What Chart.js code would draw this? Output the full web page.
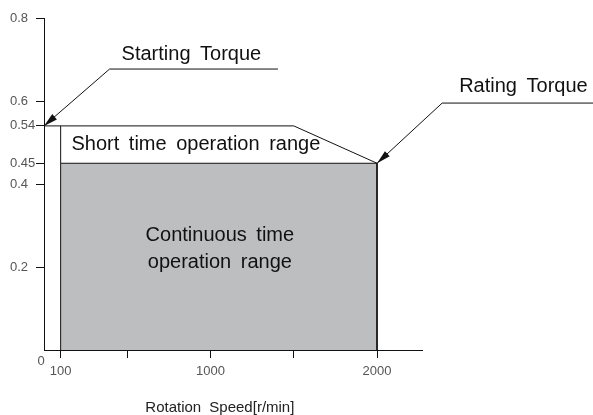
<!DOCTYPE html>
<html>
<head>
<meta charset="utf-8">
<script src="https://cdn.jsdelivr.net/npm/chart.js@4"></script>
<style>
html, body { margin: 0; padding: 0; background: #fff; }
#wrap { width: 593px; height: 415px; }
</style>
</head>
<body>
<div id="wrap"><canvas id="graficoTorque"></canvas></div>
<script>
// ticks
const speedTicks = [100, 500, 1000, 1500, 2000];
const speedLabels = [100, 1000, 2000];
const torqueTicks = [0.2, 0.4, 0.45, 0.54, 0.6, 0.8];

// continuous range (gray box)
const continuousSpeed = [100, 100, 2000, 2000];
const continuousTorque = [0, 0.45, 0.45, 0];

// short time range outline
const shortSpeed = [0, 1500, 2000];
const shortTorque = [0.54, 0.54, 0.45];
const shortEdgeSpeed = [100, 100];
const shortEdgeTorque = [0.45, 0.54];

// leader lines (end at the arrow tip)
const startLeaderSpeed = [1405, 394, 0];
const startLeaderTorque = [0.677, 0.677, 0.54];
const ratingLeaderSpeed = [3300, 2391, 2000];
const ratingLeaderTorque = [0.595, 0.595, 0.45];

// notes
const noteTexts = ['Starting Torque', 'Rating Torque', 'Short time operation range', 'Continuous time', 'operation range'];
const noteSpeed = [466, 2493, 165, 1056, 1056];
const noteTorque = [0.699, 0.622, 0.495, 0.263, 0.198];
const noteAlign = ['left', 'left', 'left', 'center', 'center'];

const pts = (xs, ys) => xs.map((v, i) => ({x: v, y: ys[i]}));

const lineDs = (xs, ys, extra) => Object.assign({
  data: pts(xs, ys),
  showLine: true,
  pointRadius: 0,
  borderColor: '#111',
  borderWidth: 1,
  fill: false
}, extra || {});

const notesPlugin = {
  id: 'notes',
  afterDatasetsDraw(chart) {
    const c = chart.ctx, x = chart.scales.x, y = chart.scales.y;
    c.save();
    // arrow heads
    chart.data.datasets.forEach(ds => {
      if (!ds.arrow) return;
      const n = ds.data.length;
      const p = ds.data[n - 1], q = ds.data[n - 2];
      const tx = x.getPixelForValue(p.x), ty = y.getPixelForValue(p.y);
      const a = Math.atan2(ty - y.getPixelForValue(q.y), tx - x.getPixelForValue(q.x));
      const L = 14, W = 3.5;
      c.fillStyle = '#111';
      c.beginPath();
      c.moveTo(tx, ty);
      c.lineTo(tx - L * Math.cos(a) + W * Math.sin(a), ty - L * Math.sin(a) - W * Math.cos(a));
      c.lineTo(tx - L * Math.cos(a) - W * Math.sin(a), ty - L * Math.sin(a) + W * Math.cos(a));
      c.closePath();
      c.fill();
    });
    // texts
    c.fillStyle = '#111';
    c.font = '20px "Liberation Sans", Arial, sans-serif';
    c.wordSpacing = '4px';
    noteTexts.forEach((t, i) => {
      c.textAlign = noteAlign[i];
      c.textBaseline = i === 2 ? 'middle' : 'alphabetic';
      c.fillText(t, x.getPixelForValue(noteSpeed[i]), y.getPixelForValue(noteTorque[i]));
    });
    // origin label and axis title
    c.font = '13px "Liberation Sans", Arial, sans-serif';
    c.fillStyle = '#555';
    c.textAlign = 'center';
    c.textBaseline = 'middle';
    c.fillText('0', x.getPixelForValue(0) - 3, y.getPixelForValue(0) + 11);
    c.font = '15px "Liberation Sans", Arial, sans-serif';
    c.fillStyle = '#222';
    c.wordSpacing = '4px';
    c.textBaseline = 'alphabetic';
    c.fillText('Rotation Speed[r/min]', x.getPixelForValue(1056), chart.height - 3);
    c.restore();
  }
};

const ctx = document.getElementById('graficoTorque');

new Chart(ctx, {
  type: 'scatter',
  data: {
    datasets: [
      lineDs(continuousSpeed, continuousTorque, {fill: 'origin', backgroundColor: '#bdbec0'}),
      lineDs(shortSpeed, shortTorque),
      lineDs(shortEdgeSpeed, shortEdgeTorque),
      lineDs(startLeaderSpeed, startLeaderTorque, {clip: false, arrow: true}),
      lineDs(ratingLeaderSpeed, ratingLeaderTorque, {clip: false, arrow: true})
    ]
  },
  options: {
    responsive: true,
    maintainAspectRatio: false,
    animation: false,
    events: [],
    layout: {padding: {top: 18, right: 171, left: 10, bottom: 0}},
    plugins: {
      legend: {display: false},
      tooltip: {enabled: false}
    },
    scales: {
      x: {
        type: 'linear',
        min: 0,
        max: 2270,
        afterBuildTicks: s => { s.ticks = speedTicks.map(v => ({value: v})); },
        afterFit: s => { s.height = 65; },
        ticks: {
          autoSkip: false,
          maxRotation: 0,
          padding: 6,
          color: '#555',
          font: {family: '"Liberation Sans", Arial, sans-serif', size: 13},
          callback: v => speedLabels.includes(v) ? String(v) : ''
        },
        grid: {drawOnChartArea: false, tickLength: 8, tickColor: '#111', tickWidth: 1},
        border: {color: '#111', width: 1}
      },
      y: {
        type: 'linear',
        min: 0,
        max: 0.8,
        afterBuildTicks: s => { s.ticks = torqueTicks.map(v => ({value: v})); },
        afterFit: s => { s.width = 34; },
        ticks: {
          autoSkip: false,
          crossAlign: 'far',
          padding: 3,
          color: '#555',
          font: {family: '"Liberation Sans", Arial, sans-serif', size: 13},
          callback: v => String(v)
        },
        grid: {drawOnChartArea: false, tickLength: 8, tickColor: '#111', tickWidth: 1},
        border: {color: '#111', width: 1}
      }
    }
  },
  plugins: [notesPlugin]
});
</script>
</body>
</html>
